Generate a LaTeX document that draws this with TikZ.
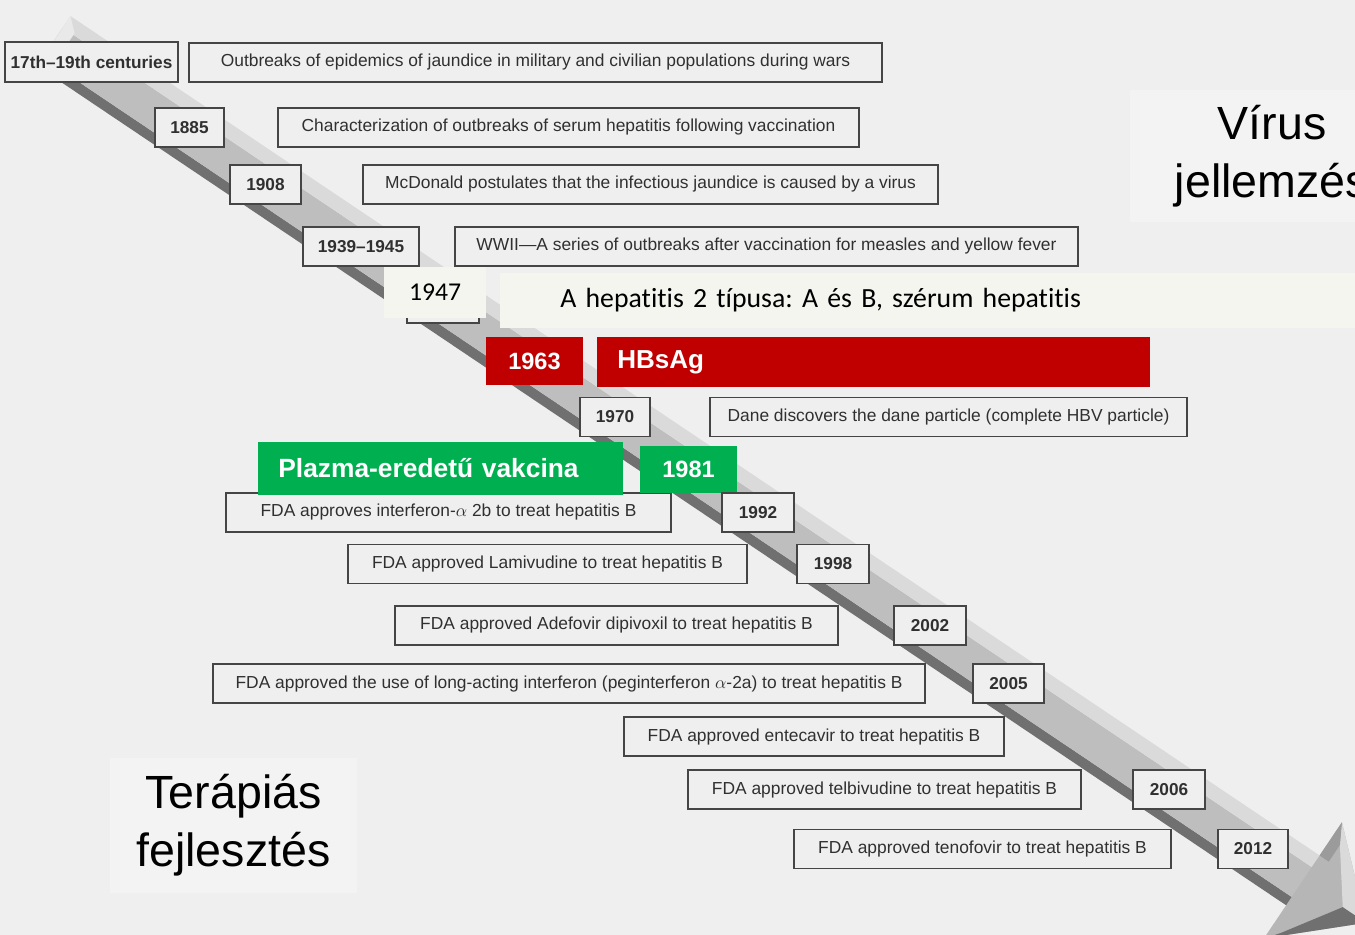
\documentclass[tikz,border=0pt]{standalone}
\usepackage{fontspec}
\setmainfont{Liberation Sans}
\newfontfamily\calibri[Ligatures=NoCommon]{Carlito}
\frenchspacing
\definecolor{bgcol}{HTML}{EFEFEF}
\definecolor{panelcol}{HTML}{F3F3F3}
\definecolor{creamcol}{HTML}{F5F5EF}
\definecolor{boxline}{HTML}{454545}
\definecolor{boxtext}{HTML}{303030}
\definecolor{hbred}{HTML}{C00000}
\definecolor{vacgreen}{HTML}{00B050}
\definecolor{arrdark}{HTML}{707070}
\definecolor{arrmid}{HTML}{BEBEBE}
\definecolor{arrlight}{HTML}{DADADA}
\definecolor{arrface}{HTML}{B6B6B6}
\begin{document}
\begin{tikzpicture}[
    x=0.02cm, y=-0.02cm,
    font=\fontsize{9.9}{11}\selectfont,
    evbox/.style={draw=boxline, line width=0.8pt, fill=bgcol, text=boxtext, inner sep=0pt, minimum height=0.78cm},
    yearbox/.style={evbox, font=\fontsize{9.8}{11}\selectfont\bfseries},
    redbox/.style={fill=hbred, text=white, inner sep=0pt, font=\fontsize{13.4}{16}\selectfont\bfseries},
    greenbox/.style={fill=vacgreen, text=white, inner sep=0pt, font=\fontsize{13.4}{16}\selectfont\bfseries},
    creambox/.style={fill=creamcol, inner sep=0pt, font=\calibri\fontsize{14.6}{17}\selectfont},
    panel/.style={fill=panelcol, inner sep=0pt, align=center, font=\fontsize{26.5}{33}\selectfont}
]
\useasboundingbox (0,0) rectangle (1355,935);
\fill[bgcol] (0,0) rectangle (1355,935);

% timeline arrow
\begin{scope}[shift={(247,207)}, rotate=-33.9]
    \fill[arrdark] (-253,0) rectangle (1253,-10);
    \fill[arrmid] (-253,-10) rectangle (1253,-46);
    \fill[arrlight] (-253,-46) rectangle (1253,-60);
    \fill[arrlight!60!white] (-253,-60) -- (-240,-48) -- (-240,-10) -- (-253,0) -- cycle;
    \fill[arrface] (1252,-100) -- (1328,-30) -- (1252,40) -- cycle;
    \fill[arrlight] (1252,-100) -- (1328,-30) -- (1300,-30) -- (1263,-80) -- cycle;
    \fill[arrdark] (1252,40) -- (1328,-30) -- (1300,-30) -- (1263,26) -- cycle;
    \fill[arrdark!70!white] (1252,-100) -- (1263,-80) -- (1263,-60) -- (1252,-60) -- cycle;
\end{scope}

\node[panel, minimum width=5.68cm, minimum height=2.64cm] (virus) at (1272,156) {Vírus\\jellemzés};
\node[panel, minimum width=4.94cm, minimum height=2.7cm] (terapia) at (233.5,825.5) {Terápiás\\fejlesztés};

\node[yearbox, minimum width=3.46cm, minimum height=0.8cm] (cent) at (91.5,62) {17th--19th centuries};
\node[evbox, minimum width=13.86cm] (outbreak) at (535.5,62.5) {Outbreaks of epidemics of jaundice in military and civilian populations during wars};
\node[yearbox, minimum width=1.38cm] (y1885) at (189.5,127.5) {1885};
\node[evbox, minimum width=11.62cm] (serum) at (568.5,127.5) {Characterization of outbreaks of serum hepatitis following vaccination};
\node[yearbox, minimum width=1.42cm] (y1908) at (265.5,184.5) {1908};
\node[evbox, minimum width=11.5cm] (mcdonald) at (650.5,184.5) {McDonald postulates that the infectious jaundice is caused by a virus};
\node[yearbox, minimum width=2.32cm] (y1939) at (361,246.5) {1939--1945};
\node[evbox, minimum width=12.46cm] (wwii) at (766.5,246.5) {WWII---A series of outbreaks after vaccination for measles and yellow fever};
\node[evbox, minimum width=1.44cm] (y1947old) at (443,303.5) {};
\node[creambox, minimum width=2.04cm, minimum height=1.02cm] (y1947) at (435,292.5) {1947};
\node[creambox, anchor=west, text width=14.8cm, inner xsep=1.2cm, minimum height=1.1cm, align=left, font=\calibri\fontsize{15.8}{17}\selectfont] (types) at (500,300.5) {A hepatitis 2 típusa: A és B, szérum hepatitis};
\node[redbox, minimum width=1.94cm, minimum height=0.96cm] (y1963) at (534.5,361) {1963};
\node[redbox, anchor=west, text width=10.26cm, inner xsep=0.4cm, minimum height=1cm, align=left, font=\fontsize{14.8}{17}\selectfont\bfseries] (hbsag) at (597,362) {HBsAg};
\node[yearbox, minimum width=1.4cm] (y1970) at (615,417) {1970};
\node[evbox, minimum width=9.54cm] (dane) at (948.5,417) {Dane discovers the dane particle (complete HBV particle)};
\node[evbox, minimum width=8.9cm] (ifn) at (448.5,512.5) {FDA approves interferon-$\alpha$ 2b to treat hepatitis B};
\node[greenbox, anchor=west, text width=6.5cm, inner xsep=0.4cm, minimum height=1.06cm, align=left, font=\fontsize{15}{17}\selectfont\bfseries] (plazma) at (258,468.5) {Plazma-eredetű vakcina};
\node[greenbox, minimum width=1.94cm, minimum height=0.94cm] (y1981) at (688.5,469.5) {1981};
\node[yearbox, minimum width=1.44cm] (y1992) at (758,512.5) {1992};
\node[evbox, minimum width=7.98cm] (lamivudine) at (547.5,564) {FDA approved Lamivudine to treat hepatitis B};
\node[yearbox, minimum width=1.44cm] (y1998) at (833,564) {1998};
\node[evbox, minimum width=8.86cm] (adefovir) at (616.5,625.5) {FDA approved Adefovir dipivoxil to treat hepatitis B};
\node[yearbox, minimum width=1.44cm] (y2002) at (930,625.5) {2002};
\node[evbox, minimum width=14.24cm] (peg) at (569,683.5) {FDA approved the use of long-acting interferon (peginterferon $\alpha$-2a) to treat hepatitis B};
\node[yearbox, minimum width=1.42cm] (y2005) at (1008.5,683.5) {2005};
\node[evbox, minimum width=7.6cm] (entecavir) at (814,736.5) {FDA approved entecavir to treat hepatitis B};
\node[evbox, minimum width=7.86cm] (telbivudine) at (884.5,789.5) {FDA approved telbivudine to treat hepatitis B};
\node[yearbox, minimum width=1.44cm] (y2006) at (1169,789.5) {2006};
\node[evbox, minimum width=7.54cm] (tenofovir) at (982.5,849) {FDA approved tenofovir to treat hepatitis B};
\node[yearbox, minimum width=1.4cm] (y2012) at (1253,849) {2012};

\end{tikzpicture}
\end{document}
